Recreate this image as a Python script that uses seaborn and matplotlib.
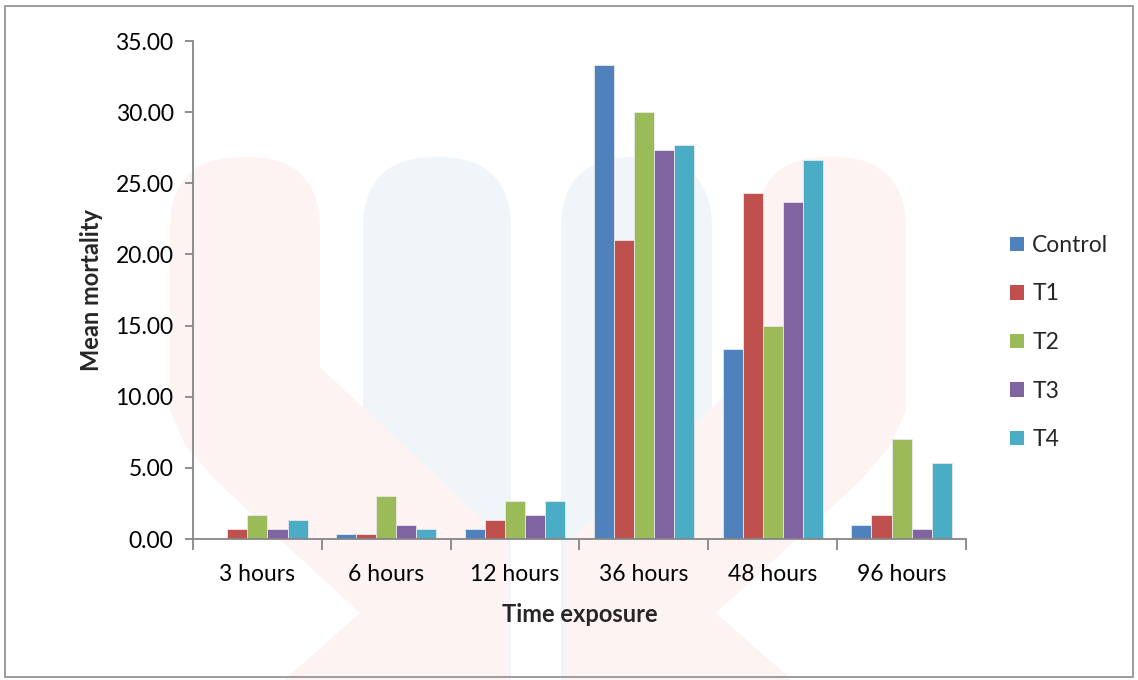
import matplotlib
matplotlib.use("Agg")
import matplotlib.pyplot as plt
from matplotlib.patches import FancyBboxPatch, Rectangle, Patch, Polygon
from matplotlib.ticker import FixedLocator, FormatStrFormatter
import numpy as np
import pandas as pd
import seaborn as sns

# ---- data -------------------------------------------------------------
time_labels = ["3 hours", "6 hours", "12 hours", "36 hours", "48 hours", "96 hours"]
treatments = ["Control", "T1", "T2", "T3", "T4"]
control = [0.00, 0.33, 0.67, 33.33, 13.33, 1.00]
t1 = [0.67, 0.33, 1.33, 21.00, 24.33, 1.67]
t2 = [1.67, 3.00, 2.67, 30.00, 15.00, 7.00]
t3 = [0.67, 1.00, 1.67, 27.33, 23.67, 0.67]
t4 = [1.33, 0.67, 2.67, 27.67, 26.67, 5.33]
colors = ["#4F81BD", "#C0504D", "#9BBB59", "#8064A2", "#4BACC6"]

series = [control, t1, t2, t3, t4]
df = pd.DataFrame(
    [(tl, tr, v) for tr, vals in zip(treatments, series) for tl, v in zip(time_labels, vals)],
    columns=["Time exposure", "Treatment", "Mean mortality"],
)

# ---- figure -----------------------------------------------------------
sns.set_theme(style="white")
plt.rcParams["font.family"] = ["Lato", "DejaVu Sans"]

W, H = 1138, 680
fig = plt.figure(figsize=(W / 100, H / 100), dpi=100)
fig.patch.set_facecolor("white")


def fx(px):
    return px / W


def fy(py):
    return 1 - py / H


# faint background logo (pixel coordinates, y pointing down)
bg = fig.add_axes([0, 0, 1, 1], zorder=-5)
bg.set_xlim(0, W)
bg.set_ylim(H, 0)
bg.axis("off")
red_wm = "#FEF3F3"
blue_wm = "#F0F5F9"
for x0, x1 in [(362, 512), (560, 713)]:
    bg.add_patch(FancyBboxPatch((x0 + 1, 157), x1 - x0 - 2, 600,
                                boxstyle="round,pad=0,rounding_size=72",
                                fc=blue_wm, ec="none"))
for x0, x1 in [(170, 320), (756, 906)]:
    bg.add_patch(FancyBboxPatch((x0, 157), x1 - x0, 250,
                                boxstyle="round,pad=0,rounding_size=72",
                                fc=red_wm, ec="none"))
left_band = [(170, 300), (320, 300), (320, 367), (510, 545), (510, 690),
             (273, 690), (360, 613), (215, 480), (185, 445), (170, 410)]
right_band = [(1076 - x, y) for x, y in left_band]
for pts in (left_band, right_band):
    bg.add_patch(Polygon(pts, closed=True, fc=red_wm, ec="none"))

ax = fig.add_axes([fx(193), fy(539), fx(966) - fx(193), fy(41) - fy(539)])
ax.patch.set_alpha(0)

sns.barplot(
    data=df, x="Time exposure", y="Mean mortality", hue="Treatment",
    order=time_labels, hue_order=treatments, palette=colors,
    width=0.78, saturation=1, edgecolor="#E8E8E8", linewidth=0.6,
    legend=False, ax=ax,
)

ax.set_xlim(-0.5, len(time_labels) - 0.5)
ax.set_ylim(0, 35)
ax.yaxis.set_major_locator(FixedLocator(np.arange(0, 35.01, 5)))
ax.yaxis.set_major_formatter(FormatStrFormatter("%.2f"))

spine_col = "#868686"
for side in ["top", "right"]:
    ax.spines[side].set_visible(False)
for side in ["left", "bottom"]:
    ax.spines[side].set_color(spine_col)
    ax.spines[side].set_linewidth(1.3)

ax.tick_params(axis="y", which="major", direction="out", length=6, width=1.3,
               color=spine_col, labelsize=16.5, pad=8, labelcolor="black", left=True)
ax.tick_params(axis="x", which="major", length=0, labelsize=16.5, pad=18, labelcolor="black")
ax.xaxis.set_minor_locator(FixedLocator(np.arange(-0.5, len(time_labels), 1.0)))
ax.tick_params(axis="x", which="minor", direction="out", length=8, width=1.3,
               color=spine_col, bottom=True)

ax.set_xlabel("Time exposure", fontsize=17, fontweight="bold", labelpad=13)
ax.set_ylabel("Mean mortality", fontsize=17, fontweight="bold", labelpad=9)

handles = [Patch(facecolor=c, edgecolor="none", label=t) for c, t in zip(colors, treatments)]
fig.legend(handles=handles, loc="upper left", bbox_to_anchor=(fx(1010), fy(235)),
           frameon=False, fontsize=16.5, handlelength=0.62, handleheight=0.62,
           handletextpad=0.35, labelspacing=1.2, borderaxespad=0, borderpad=0)

# outer chart border
fig.add_artist(Rectangle((fx(5), fy(677)), fx(1133) - fx(5), fy(6) - fy(677),
                         transform=fig.transFigure, fill=False,
                         ec="#8C8C8C", lw=1.2))

fig.savefig("out.png", dpi=100, facecolor="white")
